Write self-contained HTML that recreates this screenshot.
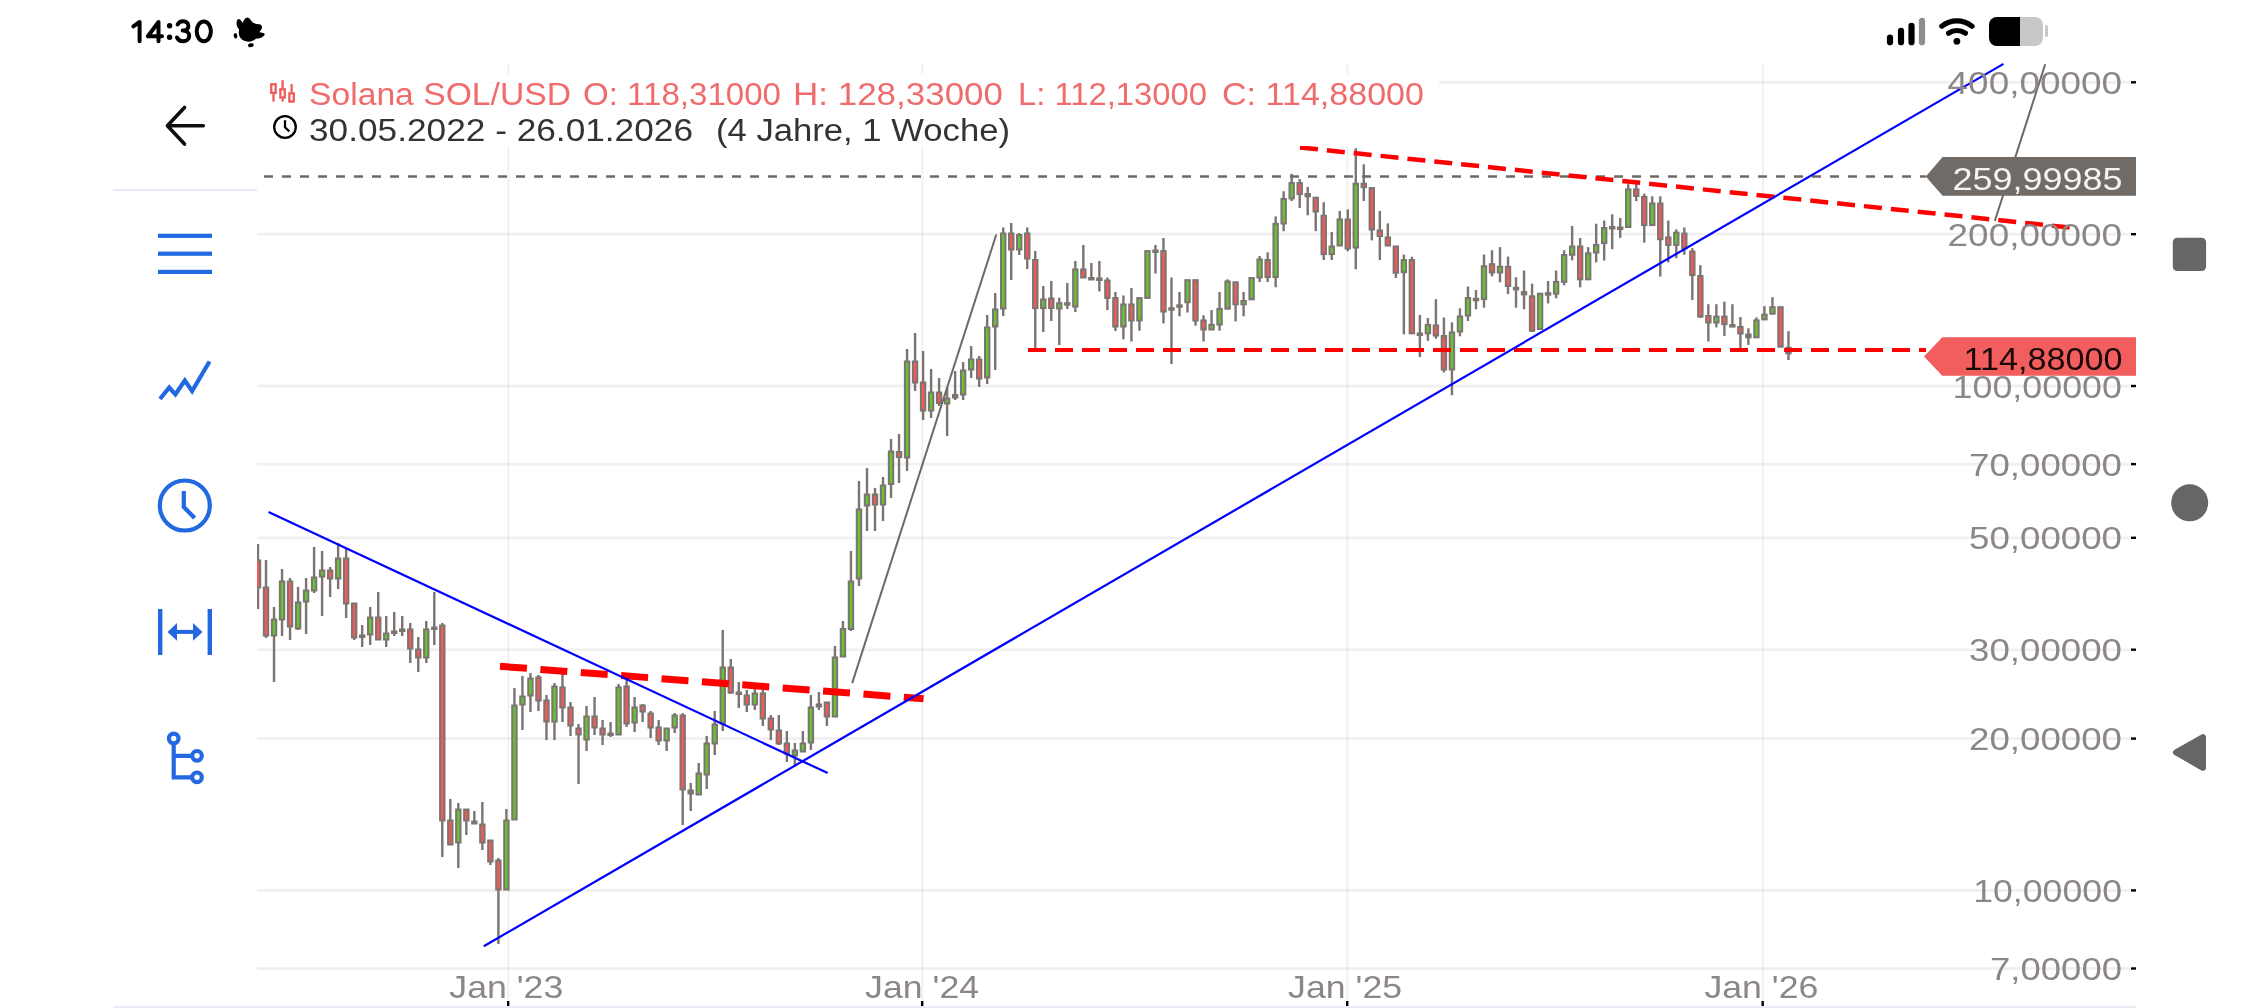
<!DOCTYPE html><html><head><meta charset="utf-8"><style>html,body{margin:0;padding:0;background:#fff;width:2244px;height:1008px;overflow:hidden}svg{display:block;will-change:transform}text{font-family:"Liberation Sans",sans-serif}</style></head><body>
<svg width="2244" height="1008" viewBox="0 0 2244 1008">
<rect width="2244" height="1008" fill="#fff"/>
<rect x="257" y="80.92" width="1873" height="2.8" fill="#000" fill-opacity="0.058"/>
<rect x="2131" y="81.1" width="5" height="2.4" fill="#000"/>
<rect x="257" y="232.76" width="1873" height="2.8" fill="#000" fill-opacity="0.058"/>
<rect x="2131" y="233.0" width="5" height="2.4" fill="#000"/>
<rect x="257" y="384.60" width="1873" height="2.8" fill="#000" fill-opacity="0.058"/>
<rect x="2131" y="384.8" width="5" height="2.4" fill="#000"/>
<rect x="257" y="462.73" width="1873" height="2.8" fill="#000" fill-opacity="0.058"/>
<rect x="2131" y="462.9" width="5" height="2.4" fill="#000"/>
<rect x="257" y="536.44" width="1873" height="2.8" fill="#000" fill-opacity="0.058"/>
<rect x="2131" y="536.6" width="5" height="2.4" fill="#000"/>
<rect x="257" y="648.34" width="1873" height="2.8" fill="#000" fill-opacity="0.058"/>
<rect x="2131" y="648.5" width="5" height="2.4" fill="#000"/>
<rect x="257" y="737.16" width="1873" height="2.8" fill="#000" fill-opacity="0.058"/>
<rect x="2131" y="737.4" width="5" height="2.4" fill="#000"/>
<rect x="257" y="889.00" width="1873" height="2.8" fill="#000" fill-opacity="0.058"/>
<rect x="2131" y="889.2" width="5" height="2.4" fill="#000"/>
<rect x="257" y="967.13" width="1873" height="2.8" fill="#000" fill-opacity="0.058"/>
<rect x="2131" y="967.3" width="5" height="2.4" fill="#000"/>
<rect x="507.5" y="63" width="1.8" height="942" fill="#000" fill-opacity="0.06"/>
<rect x="507.0" y="1001" width="2.4" height="5" fill="#000"/>
<rect x="921.5" y="63" width="1.8" height="942" fill="#000" fill-opacity="0.06"/>
<rect x="921.0" y="1001" width="2.4" height="5" fill="#000"/>
<rect x="1346.5" y="63" width="1.8" height="942" fill="#000" fill-opacity="0.06"/>
<rect x="1346.0" y="1001" width="2.4" height="5" fill="#000"/>
<rect x="1762.0" y="63" width="1.8" height="942" fill="#000" fill-opacity="0.06"/>
<rect x="1761.5" y="1001" width="2.4" height="5" fill="#000"/>
<rect x="113" y="1006" width="2023" height="2" fill="#e8ebf5"/>
<rect x="113" y="189" width="144" height="2" fill="#e8ebf5"/>
<g>
<rect x="256.80" y="544.0" width="2.4" height="65.0" fill="#7b7471"/>
<rect x="254.80" y="559.5" width="6.4" height="29.0" fill="#7b7471"/>
<rect x="256.80" y="561.5" width="2.4" height="25.0" fill="#f25a5a"/>
<rect x="264.81" y="560.0" width="2.4" height="78.0" fill="#7b7471"/>
<rect x="262.81" y="586.5" width="6.4" height="50.0" fill="#7b7471"/>
<rect x="264.81" y="588.5" width="2.4" height="46.0" fill="#f25a5a"/>
<rect x="272.83" y="607.0" width="2.4" height="75.0" fill="#7b7471"/>
<rect x="270.83" y="618.5" width="6.4" height="18.0" fill="#7b7471"/>
<rect x="272.83" y="620.5" width="2.4" height="14.0" fill="#66c430"/>
<rect x="280.84" y="569.0" width="2.4" height="67.0" fill="#7b7471"/>
<rect x="278.84" y="580.5" width="6.4" height="40.0" fill="#7b7471"/>
<rect x="280.84" y="582.5" width="2.4" height="36.0" fill="#66c430"/>
<rect x="288.85" y="578.0" width="2.4" height="62.0" fill="#7b7471"/>
<rect x="286.85" y="580.5" width="6.4" height="47.0" fill="#7b7471"/>
<rect x="288.85" y="582.5" width="2.4" height="43.0" fill="#f25a5a"/>
<rect x="296.87" y="587.0" width="2.4" height="43.0" fill="#7b7471"/>
<rect x="294.87" y="601.5" width="6.4" height="28.0" fill="#7b7471"/>
<rect x="296.87" y="603.5" width="2.4" height="24.0" fill="#66c430"/>
<rect x="304.88" y="578.0" width="2.4" height="56.0" fill="#7b7471"/>
<rect x="302.88" y="589.5" width="6.4" height="13.0" fill="#7b7471"/>
<rect x="304.88" y="591.5" width="2.4" height="9.0" fill="#66c430"/>
<rect x="312.89" y="547.0" width="2.4" height="46.0" fill="#7b7471"/>
<rect x="310.89" y="576.5" width="6.4" height="15.0" fill="#7b7471"/>
<rect x="312.89" y="578.5" width="2.4" height="11.0" fill="#66c430"/>
<rect x="320.90" y="551.0" width="2.4" height="65.0" fill="#7b7471"/>
<rect x="318.90" y="569.5" width="6.4" height="8.0" fill="#7b7471"/>
<rect x="320.90" y="571.5" width="2.4" height="4.0" fill="#66c430"/>
<rect x="328.92" y="567.0" width="2.4" height="30.0" fill="#7b7471"/>
<rect x="326.92" y="569.5" width="6.4" height="10.0" fill="#7b7471"/>
<rect x="328.92" y="571.5" width="2.4" height="6.0" fill="#f25a5a"/>
<rect x="336.93" y="543.0" width="2.4" height="46.0" fill="#7b7471"/>
<rect x="334.93" y="557.5" width="6.4" height="22.0" fill="#7b7471"/>
<rect x="336.93" y="559.5" width="2.4" height="18.0" fill="#66c430"/>
<rect x="344.94" y="548.0" width="2.4" height="70.0" fill="#7b7471"/>
<rect x="342.94" y="557.5" width="6.4" height="47.0" fill="#7b7471"/>
<rect x="344.94" y="559.5" width="2.4" height="43.0" fill="#f25a5a"/>
<rect x="352.96" y="603.0" width="2.4" height="37.0" fill="#7b7471"/>
<rect x="350.96" y="602.5" width="6.4" height="36.0" fill="#7b7471"/>
<rect x="352.96" y="604.5" width="2.4" height="32.0" fill="#f25a5a"/>
<rect x="360.97" y="625.0" width="2.4" height="22.0" fill="#7b7471"/>
<rect x="358.97" y="634.5" width="6.4" height="3.5" fill="#7b7471"/>
<rect x="368.98" y="607.0" width="2.4" height="38.0" fill="#7b7471"/>
<rect x="366.98" y="616.5" width="6.4" height="19.0" fill="#7b7471"/>
<rect x="368.98" y="618.5" width="2.4" height="15.0" fill="#66c430"/>
<rect x="377.00" y="592.0" width="2.4" height="48.0" fill="#7b7471"/>
<rect x="375.00" y="616.5" width="6.4" height="24.0" fill="#7b7471"/>
<rect x="377.00" y="618.5" width="2.4" height="20.0" fill="#f25a5a"/>
<rect x="385.01" y="616.0" width="2.4" height="31.0" fill="#7b7471"/>
<rect x="383.01" y="632.5" width="6.4" height="8.0" fill="#7b7471"/>
<rect x="385.01" y="634.5" width="2.4" height="4.0" fill="#66c430"/>
<rect x="393.02" y="612.0" width="2.4" height="24.0" fill="#7b7471"/>
<rect x="391.02" y="630.5" width="6.4" height="3.5" fill="#7b7471"/>
<rect x="401.03" y="616.0" width="2.4" height="20.0" fill="#7b7471"/>
<rect x="399.03" y="628.5" width="6.4" height="3.5" fill="#7b7471"/>
<rect x="409.05" y="623.0" width="2.4" height="40.0" fill="#7b7471"/>
<rect x="407.05" y="628.5" width="6.4" height="21.0" fill="#7b7471"/>
<rect x="409.05" y="630.5" width="2.4" height="17.0" fill="#f25a5a"/>
<rect x="417.06" y="637.0" width="2.4" height="35.0" fill="#7b7471"/>
<rect x="415.06" y="648.5" width="6.4" height="10.0" fill="#7b7471"/>
<rect x="417.06" y="650.5" width="2.4" height="6.0" fill="#f25a5a"/>
<rect x="425.07" y="621.0" width="2.4" height="42.0" fill="#7b7471"/>
<rect x="423.07" y="628.5" width="6.4" height="30.0" fill="#7b7471"/>
<rect x="425.07" y="630.5" width="2.4" height="26.0" fill="#66c430"/>
<rect x="433.09" y="592.0" width="2.4" height="53.0" fill="#7b7471"/>
<rect x="431.09" y="626.5" width="6.4" height="3.5" fill="#7b7471"/>
<rect x="441.10" y="623.0" width="2.4" height="234.0" fill="#7b7471"/>
<rect x="439.10" y="624.5" width="6.4" height="197.0" fill="#7b7471"/>
<rect x="441.10" y="626.5" width="2.4" height="193.0" fill="#f25a5a"/>
<rect x="449.11" y="799.0" width="2.4" height="46.0" fill="#7b7471"/>
<rect x="447.11" y="819.5" width="6.4" height="26.0" fill="#7b7471"/>
<rect x="449.11" y="821.5" width="2.4" height="22.0" fill="#f25a5a"/>
<rect x="457.12" y="803.0" width="2.4" height="65.0" fill="#7b7471"/>
<rect x="455.12" y="808.5" width="6.4" height="35.0" fill="#7b7471"/>
<rect x="457.12" y="810.5" width="2.4" height="31.0" fill="#66c430"/>
<rect x="465.14" y="809.0" width="2.4" height="26.0" fill="#7b7471"/>
<rect x="463.14" y="808.5" width="6.4" height="13.0" fill="#7b7471"/>
<rect x="465.14" y="810.5" width="2.4" height="9.0" fill="#f25a5a"/>
<rect x="473.15" y="811.0" width="2.4" height="13.0" fill="#7b7471"/>
<rect x="471.15" y="820.5" width="6.4" height="4.0" fill="#7b7471"/>
<rect x="481.16" y="802.0" width="2.4" height="48.0" fill="#7b7471"/>
<rect x="479.16" y="823.5" width="6.4" height="20.0" fill="#7b7471"/>
<rect x="481.16" y="825.5" width="2.4" height="16.0" fill="#f25a5a"/>
<rect x="489.18" y="840.0" width="2.4" height="25.0" fill="#7b7471"/>
<rect x="487.18" y="839.5" width="6.4" height="23.0" fill="#7b7471"/>
<rect x="489.18" y="841.5" width="2.4" height="19.0" fill="#f25a5a"/>
<rect x="497.19" y="858.0" width="2.4" height="86.0" fill="#7b7471"/>
<rect x="495.19" y="859.5" width="6.4" height="31.0" fill="#7b7471"/>
<rect x="497.19" y="861.5" width="2.4" height="27.0" fill="#f25a5a"/>
<rect x="505.20" y="809.0" width="2.4" height="81.0" fill="#7b7471"/>
<rect x="503.20" y="819.5" width="6.4" height="71.0" fill="#7b7471"/>
<rect x="505.20" y="821.5" width="2.4" height="67.0" fill="#66c430"/>
<rect x="513.22" y="688.0" width="2.4" height="132.0" fill="#7b7471"/>
<rect x="511.22" y="704.5" width="6.4" height="116.0" fill="#7b7471"/>
<rect x="513.22" y="706.5" width="2.4" height="112.0" fill="#66c430"/>
<rect x="521.23" y="676.0" width="2.4" height="54.0" fill="#7b7471"/>
<rect x="519.23" y="695.5" width="6.4" height="10.0" fill="#7b7471"/>
<rect x="521.23" y="697.5" width="2.4" height="6.0" fill="#66c430"/>
<rect x="529.24" y="673.0" width="2.4" height="39.0" fill="#7b7471"/>
<rect x="527.24" y="677.5" width="6.4" height="19.0" fill="#7b7471"/>
<rect x="529.24" y="679.5" width="2.4" height="15.0" fill="#66c430"/>
<rect x="537.25" y="675.0" width="2.4" height="36.0" fill="#7b7471"/>
<rect x="535.25" y="676.5" width="6.4" height="25.0" fill="#7b7471"/>
<rect x="537.25" y="678.5" width="2.4" height="21.0" fill="#f25a5a"/>
<rect x="545.27" y="695.0" width="2.4" height="45.0" fill="#7b7471"/>
<rect x="543.27" y="699.5" width="6.4" height="23.0" fill="#7b7471"/>
<rect x="545.27" y="701.5" width="2.4" height="19.0" fill="#f25a5a"/>
<rect x="553.28" y="683.0" width="2.4" height="57.0" fill="#7b7471"/>
<rect x="551.28" y="685.5" width="6.4" height="37.0" fill="#7b7471"/>
<rect x="553.28" y="687.5" width="2.4" height="33.0" fill="#66c430"/>
<rect x="561.29" y="674.0" width="2.4" height="48.0" fill="#7b7471"/>
<rect x="559.29" y="686.5" width="6.4" height="22.0" fill="#7b7471"/>
<rect x="561.29" y="688.5" width="2.4" height="18.0" fill="#f25a5a"/>
<rect x="569.31" y="702.0" width="2.4" height="34.0" fill="#7b7471"/>
<rect x="567.31" y="706.5" width="6.4" height="20.0" fill="#7b7471"/>
<rect x="569.31" y="708.5" width="2.4" height="16.0" fill="#f25a5a"/>
<rect x="577.32" y="724.0" width="2.4" height="60.0" fill="#7b7471"/>
<rect x="575.32" y="727.5" width="6.4" height="8.0" fill="#7b7471"/>
<rect x="577.32" y="729.5" width="2.4" height="4.0" fill="#f25a5a"/>
<rect x="585.33" y="706.0" width="2.4" height="45.0" fill="#7b7471"/>
<rect x="583.33" y="715.5" width="6.4" height="25.0" fill="#7b7471"/>
<rect x="585.33" y="717.5" width="2.4" height="21.0" fill="#66c430"/>
<rect x="593.35" y="697.0" width="2.4" height="38.0" fill="#7b7471"/>
<rect x="591.35" y="715.5" width="6.4" height="13.0" fill="#7b7471"/>
<rect x="593.35" y="717.5" width="2.4" height="9.0" fill="#f25a5a"/>
<rect x="601.36" y="720.0" width="2.4" height="25.0" fill="#7b7471"/>
<rect x="599.36" y="727.5" width="6.4" height="8.0" fill="#7b7471"/>
<rect x="601.36" y="729.5" width="2.4" height="4.0" fill="#f25a5a"/>
<rect x="609.37" y="722.0" width="2.4" height="15.0" fill="#7b7471"/>
<rect x="607.37" y="732.5" width="6.4" height="3.5" fill="#7b7471"/>
<rect x="617.38" y="684.0" width="2.4" height="51.0" fill="#7b7471"/>
<rect x="615.38" y="686.5" width="6.4" height="49.0" fill="#7b7471"/>
<rect x="617.38" y="688.5" width="2.4" height="45.0" fill="#66c430"/>
<rect x="625.40" y="680.0" width="2.4" height="47.0" fill="#7b7471"/>
<rect x="623.40" y="685.5" width="6.4" height="39.0" fill="#7b7471"/>
<rect x="625.40" y="687.5" width="2.4" height="35.0" fill="#f25a5a"/>
<rect x="633.41" y="697.0" width="2.4" height="35.0" fill="#7b7471"/>
<rect x="631.41" y="706.5" width="6.4" height="17.0" fill="#7b7471"/>
<rect x="633.41" y="708.5" width="2.4" height="13.0" fill="#66c430"/>
<rect x="641.42" y="704.0" width="2.4" height="18.0" fill="#7b7471"/>
<rect x="639.42" y="704.5" width="6.4" height="8.0" fill="#7b7471"/>
<rect x="641.42" y="706.5" width="2.4" height="4.0" fill="#f25a5a"/>
<rect x="649.44" y="711.0" width="2.4" height="27.0" fill="#7b7471"/>
<rect x="647.44" y="712.5" width="6.4" height="16.0" fill="#7b7471"/>
<rect x="649.44" y="714.5" width="2.4" height="12.0" fill="#f25a5a"/>
<rect x="657.45" y="720.0" width="2.4" height="25.0" fill="#7b7471"/>
<rect x="655.45" y="726.5" width="6.4" height="15.0" fill="#7b7471"/>
<rect x="657.45" y="728.5" width="2.4" height="11.0" fill="#f25a5a"/>
<rect x="665.46" y="728.0" width="2.4" height="23.0" fill="#7b7471"/>
<rect x="663.46" y="727.5" width="6.4" height="14.0" fill="#7b7471"/>
<rect x="665.46" y="729.5" width="2.4" height="10.0" fill="#66c430"/>
<rect x="673.48" y="713.0" width="2.4" height="20.0" fill="#7b7471"/>
<rect x="671.48" y="714.5" width="6.4" height="14.0" fill="#7b7471"/>
<rect x="673.48" y="716.5" width="2.4" height="10.0" fill="#66c430"/>
<rect x="681.49" y="713.0" width="2.4" height="112.0" fill="#7b7471"/>
<rect x="679.49" y="714.5" width="6.4" height="76.0" fill="#7b7471"/>
<rect x="681.49" y="716.5" width="2.4" height="72.0" fill="#f25a5a"/>
<rect x="689.50" y="783.0" width="2.4" height="28.0" fill="#7b7471"/>
<rect x="687.50" y="789.5" width="6.4" height="5.0" fill="#7b7471"/>
<rect x="697.51" y="763.0" width="2.4" height="32.0" fill="#7b7471"/>
<rect x="695.51" y="772.5" width="6.4" height="23.0" fill="#7b7471"/>
<rect x="697.51" y="774.5" width="2.4" height="19.0" fill="#66c430"/>
<rect x="705.53" y="736.0" width="2.4" height="53.0" fill="#7b7471"/>
<rect x="703.53" y="742.5" width="6.4" height="33.0" fill="#7b7471"/>
<rect x="705.53" y="744.5" width="2.4" height="29.0" fill="#66c430"/>
<rect x="713.54" y="711.0" width="2.4" height="44.0" fill="#7b7471"/>
<rect x="711.54" y="723.5" width="6.4" height="21.0" fill="#7b7471"/>
<rect x="713.54" y="725.5" width="2.4" height="17.0" fill="#66c430"/>
<rect x="721.55" y="630.0" width="2.4" height="101.0" fill="#7b7471"/>
<rect x="719.55" y="666.5" width="6.4" height="58.0" fill="#7b7471"/>
<rect x="721.55" y="668.5" width="2.4" height="54.0" fill="#66c430"/>
<rect x="729.57" y="659.0" width="2.4" height="35.0" fill="#7b7471"/>
<rect x="727.57" y="666.5" width="6.4" height="27.0" fill="#7b7471"/>
<rect x="729.57" y="668.5" width="2.4" height="23.0" fill="#f25a5a"/>
<rect x="737.58" y="682.0" width="2.4" height="26.0" fill="#7b7471"/>
<rect x="735.58" y="691.5" width="6.4" height="3.5" fill="#7b7471"/>
<rect x="745.59" y="690.0" width="2.4" height="22.0" fill="#7b7471"/>
<rect x="743.59" y="694.5" width="6.4" height="11.0" fill="#7b7471"/>
<rect x="745.59" y="696.5" width="2.4" height="7.0" fill="#f25a5a"/>
<rect x="753.61" y="689.0" width="2.4" height="21.0" fill="#7b7471"/>
<rect x="751.61" y="692.5" width="6.4" height="13.0" fill="#7b7471"/>
<rect x="753.61" y="694.5" width="2.4" height="9.0" fill="#66c430"/>
<rect x="761.62" y="690.0" width="2.4" height="36.0" fill="#7b7471"/>
<rect x="759.62" y="692.5" width="6.4" height="27.0" fill="#7b7471"/>
<rect x="761.62" y="694.5" width="2.4" height="23.0" fill="#f25a5a"/>
<rect x="769.63" y="715.0" width="2.4" height="25.0" fill="#7b7471"/>
<rect x="767.63" y="717.5" width="6.4" height="13.0" fill="#7b7471"/>
<rect x="769.63" y="719.5" width="2.4" height="9.0" fill="#f25a5a"/>
<rect x="777.64" y="715.0" width="2.4" height="30.0" fill="#7b7471"/>
<rect x="775.64" y="729.5" width="6.4" height="15.0" fill="#7b7471"/>
<rect x="777.64" y="731.5" width="2.4" height="11.0" fill="#f25a5a"/>
<rect x="785.66" y="731.0" width="2.4" height="31.0" fill="#7b7471"/>
<rect x="783.66" y="742.5" width="6.4" height="12.0" fill="#7b7471"/>
<rect x="785.66" y="744.5" width="2.4" height="8.0" fill="#f25a5a"/>
<rect x="793.67" y="743.0" width="2.4" height="22.0" fill="#7b7471"/>
<rect x="791.67" y="749.5" width="6.4" height="7.0" fill="#7b7471"/>
<rect x="793.67" y="751.5" width="2.4" height="3.0" fill="#66c430"/>
<rect x="801.68" y="731.0" width="2.4" height="21.0" fill="#7b7471"/>
<rect x="799.68" y="742.5" width="6.4" height="10.0" fill="#7b7471"/>
<rect x="801.68" y="744.5" width="2.4" height="6.0" fill="#66c430"/>
<rect x="809.70" y="695.0" width="2.4" height="55.0" fill="#7b7471"/>
<rect x="807.70" y="706.5" width="6.4" height="37.0" fill="#7b7471"/>
<rect x="809.70" y="708.5" width="2.4" height="33.0" fill="#66c430"/>
<rect x="817.71" y="692.0" width="2.4" height="18.0" fill="#7b7471"/>
<rect x="815.71" y="703.5" width="6.4" height="4.0" fill="#7b7471"/>
<rect x="825.72" y="702.0" width="2.4" height="24.0" fill="#7b7471"/>
<rect x="823.72" y="701.5" width="6.4" height="16.0" fill="#7b7471"/>
<rect x="825.72" y="703.5" width="2.4" height="12.0" fill="#f25a5a"/>
<rect x="833.74" y="646.0" width="2.4" height="71.0" fill="#7b7471"/>
<rect x="831.74" y="656.5" width="6.4" height="61.0" fill="#7b7471"/>
<rect x="833.74" y="658.5" width="2.4" height="57.0" fill="#66c430"/>
<rect x="841.75" y="621.0" width="2.4" height="36.0" fill="#7b7471"/>
<rect x="839.75" y="628.0" width="6.4" height="29.5" fill="#7b7471"/>
<rect x="841.75" y="630.0" width="2.4" height="25.5" fill="#66c430"/>
<rect x="849.76" y="551.0" width="2.4" height="80.0" fill="#7b7471"/>
<rect x="847.76" y="580.5" width="6.4" height="49.5" fill="#7b7471"/>
<rect x="849.76" y="582.5" width="2.4" height="45.5" fill="#66c430"/>
<rect x="857.77" y="481.0" width="2.4" height="105.0" fill="#7b7471"/>
<rect x="855.77" y="508.5" width="6.4" height="71.0" fill="#7b7471"/>
<rect x="857.77" y="510.5" width="2.4" height="67.0" fill="#66c430"/>
<rect x="865.79" y="468.0" width="2.4" height="63.0" fill="#7b7471"/>
<rect x="863.79" y="493.5" width="6.4" height="13.0" fill="#7b7471"/>
<rect x="865.79" y="495.5" width="2.4" height="9.0" fill="#66c430"/>
<rect x="873.80" y="488.0" width="2.4" height="43.0" fill="#7b7471"/>
<rect x="871.80" y="493.5" width="6.4" height="12.0" fill="#7b7471"/>
<rect x="873.80" y="495.5" width="2.4" height="8.0" fill="#f25a5a"/>
<rect x="881.81" y="477.0" width="2.4" height="44.0" fill="#7b7471"/>
<rect x="879.81" y="484.5" width="6.4" height="21.0" fill="#7b7471"/>
<rect x="881.81" y="486.5" width="2.4" height="17.0" fill="#66c430"/>
<rect x="889.83" y="439.0" width="2.4" height="59.0" fill="#7b7471"/>
<rect x="887.83" y="450.5" width="6.4" height="34.5" fill="#7b7471"/>
<rect x="889.83" y="452.5" width="2.4" height="30.5" fill="#66c430"/>
<rect x="897.84" y="434.0" width="2.4" height="49.0" fill="#7b7471"/>
<rect x="895.84" y="451.0" width="6.4" height="7.0" fill="#7b7471"/>
<rect x="897.84" y="453.0" width="2.4" height="3.0" fill="#f25a5a"/>
<rect x="905.85" y="349.0" width="2.4" height="122.0" fill="#7b7471"/>
<rect x="903.85" y="360.5" width="6.4" height="98.0" fill="#7b7471"/>
<rect x="905.85" y="362.5" width="2.4" height="94.0" fill="#66c430"/>
<rect x="913.87" y="333.0" width="2.4" height="58.0" fill="#7b7471"/>
<rect x="911.87" y="360.5" width="6.4" height="23.0" fill="#7b7471"/>
<rect x="913.87" y="362.5" width="2.4" height="19.0" fill="#f25a5a"/>
<rect x="921.88" y="351.0" width="2.4" height="69.0" fill="#7b7471"/>
<rect x="919.88" y="381.5" width="6.4" height="30.0" fill="#7b7471"/>
<rect x="921.88" y="383.5" width="2.4" height="26.0" fill="#f25a5a"/>
<rect x="929.89" y="369.0" width="2.4" height="49.0" fill="#7b7471"/>
<rect x="927.89" y="391.5" width="6.4" height="20.0" fill="#7b7471"/>
<rect x="929.89" y="393.5" width="2.4" height="16.0" fill="#66c430"/>
<rect x="937.90" y="378.0" width="2.4" height="28.0" fill="#7b7471"/>
<rect x="935.90" y="391.5" width="6.4" height="12.5" fill="#7b7471"/>
<rect x="937.90" y="393.5" width="2.4" height="8.5" fill="#f25a5a"/>
<rect x="945.92" y="387.0" width="2.4" height="49.0" fill="#7b7471"/>
<rect x="943.92" y="397.5" width="6.4" height="7.0" fill="#7b7471"/>
<rect x="945.92" y="399.5" width="2.4" height="3.0" fill="#66c430"/>
<rect x="953.93" y="371.0" width="2.4" height="29.0" fill="#7b7471"/>
<rect x="951.93" y="394.0" width="6.4" height="4.5" fill="#7b7471"/>
<rect x="961.94" y="362.0" width="2.4" height="38.0" fill="#7b7471"/>
<rect x="959.94" y="369.5" width="6.4" height="26.0" fill="#7b7471"/>
<rect x="961.94" y="371.5" width="2.4" height="22.0" fill="#66c430"/>
<rect x="969.96" y="346.0" width="2.4" height="32.0" fill="#7b7471"/>
<rect x="967.96" y="358.5" width="6.4" height="12.0" fill="#7b7471"/>
<rect x="969.96" y="360.5" width="2.4" height="8.0" fill="#66c430"/>
<rect x="977.97" y="356.0" width="2.4" height="31.0" fill="#7b7471"/>
<rect x="975.97" y="358.5" width="6.4" height="21.0" fill="#7b7471"/>
<rect x="977.97" y="360.5" width="2.4" height="17.0" fill="#f25a5a"/>
<rect x="985.98" y="315.0" width="2.4" height="69.0" fill="#7b7471"/>
<rect x="983.98" y="326.5" width="6.4" height="52.0" fill="#7b7471"/>
<rect x="985.98" y="328.5" width="2.4" height="48.0" fill="#66c430"/>
<rect x="994.00" y="293.0" width="2.4" height="77.0" fill="#7b7471"/>
<rect x="992.00" y="308.5" width="6.4" height="19.0" fill="#7b7471"/>
<rect x="994.00" y="310.5" width="2.4" height="15.0" fill="#66c430"/>
<rect x="1002.01" y="227.5" width="2.4" height="88.5" fill="#7b7471"/>
<rect x="1000.01" y="232.5" width="6.4" height="77.0" fill="#7b7471"/>
<rect x="1002.01" y="234.5" width="2.4" height="73.0" fill="#66c430"/>
<rect x="1010.02" y="223.0" width="2.4" height="57.0" fill="#7b7471"/>
<rect x="1008.02" y="232.5" width="6.4" height="18.0" fill="#7b7471"/>
<rect x="1010.02" y="234.5" width="2.4" height="14.0" fill="#f25a5a"/>
<rect x="1018.03" y="233.0" width="2.4" height="22.0" fill="#7b7471"/>
<rect x="1016.03" y="234.0" width="6.4" height="16.5" fill="#7b7471"/>
<rect x="1018.03" y="236.0" width="2.4" height="12.5" fill="#66c430"/>
<rect x="1026.05" y="227.5" width="2.4" height="41.5" fill="#7b7471"/>
<rect x="1024.05" y="232.5" width="6.4" height="27.0" fill="#7b7471"/>
<rect x="1026.05" y="234.5" width="2.4" height="23.0" fill="#f25a5a"/>
<rect x="1034.06" y="251.0" width="2.4" height="100.0" fill="#7b7471"/>
<rect x="1032.06" y="259.0" width="6.4" height="50.1" fill="#7b7471"/>
<rect x="1034.06" y="261.0" width="2.4" height="46.1" fill="#f25a5a"/>
<rect x="1042.07" y="286.0" width="2.4" height="46.0" fill="#7b7471"/>
<rect x="1040.07" y="298.5" width="6.4" height="10.6" fill="#7b7471"/>
<rect x="1042.07" y="300.5" width="2.4" height="6.6" fill="#66c430"/>
<rect x="1050.09" y="281.0" width="2.4" height="40.0" fill="#7b7471"/>
<rect x="1048.09" y="297.5" width="6.4" height="11.5" fill="#7b7471"/>
<rect x="1050.09" y="299.5" width="2.4" height="7.5" fill="#f25a5a"/>
<rect x="1058.10" y="297.6" width="2.4" height="47.4" fill="#7b7471"/>
<rect x="1056.10" y="302.2" width="6.4" height="7.3" fill="#7b7471"/>
<rect x="1058.10" y="304.2" width="2.4" height="3.3" fill="#66c430"/>
<rect x="1066.11" y="283.0" width="2.4" height="26.0" fill="#7b7471"/>
<rect x="1064.11" y="302.2" width="6.4" height="3.5" fill="#7b7471"/>
<rect x="1074.13" y="261.0" width="2.4" height="51.0" fill="#7b7471"/>
<rect x="1072.13" y="268.5" width="6.4" height="39.0" fill="#7b7471"/>
<rect x="1074.13" y="270.5" width="2.4" height="35.0" fill="#66c430"/>
<rect x="1082.14" y="245.0" width="2.4" height="33.0" fill="#7b7471"/>
<rect x="1080.14" y="268.5" width="6.4" height="10.0" fill="#7b7471"/>
<rect x="1082.14" y="270.5" width="2.4" height="6.0" fill="#f25a5a"/>
<rect x="1090.15" y="263.0" width="2.4" height="17.0" fill="#7b7471"/>
<rect x="1088.15" y="277.0" width="6.4" height="3.5" fill="#7b7471"/>
<rect x="1098.16" y="261.0" width="2.4" height="30.5" fill="#7b7471"/>
<rect x="1096.16" y="277.5" width="6.4" height="3.5" fill="#7b7471"/>
<rect x="1106.18" y="277.5" width="2.4" height="32.5" fill="#7b7471"/>
<rect x="1104.18" y="279.5" width="6.4" height="19.4" fill="#7b7471"/>
<rect x="1106.18" y="281.5" width="2.4" height="15.4" fill="#f25a5a"/>
<rect x="1114.19" y="292.0" width="2.4" height="39.0" fill="#7b7471"/>
<rect x="1112.19" y="297.1" width="6.4" height="30.4" fill="#7b7471"/>
<rect x="1114.19" y="299.1" width="2.4" height="26.4" fill="#f25a5a"/>
<rect x="1122.20" y="295.5" width="2.4" height="43.9" fill="#7b7471"/>
<rect x="1120.20" y="303.5" width="6.4" height="24.0" fill="#7b7471"/>
<rect x="1122.20" y="305.5" width="2.4" height="20.0" fill="#66c430"/>
<rect x="1130.22" y="288.0" width="2.4" height="53.5" fill="#7b7471"/>
<rect x="1128.22" y="303.5" width="6.4" height="18.0" fill="#7b7471"/>
<rect x="1130.22" y="305.5" width="2.4" height="14.0" fill="#f25a5a"/>
<rect x="1138.23" y="297.6" width="2.4" height="33.1" fill="#7b7471"/>
<rect x="1136.23" y="297.1" width="6.4" height="24.4" fill="#7b7471"/>
<rect x="1138.23" y="299.1" width="2.4" height="20.4" fill="#66c430"/>
<rect x="1146.24" y="250.6" width="2.4" height="47.8" fill="#7b7471"/>
<rect x="1144.24" y="250.1" width="6.4" height="48.8" fill="#7b7471"/>
<rect x="1146.24" y="252.1" width="2.4" height="44.8" fill="#66c430"/>
<rect x="1154.26" y="245.0" width="2.4" height="28.6" fill="#7b7471"/>
<rect x="1152.26" y="249.5" width="6.4" height="3.5" fill="#7b7471"/>
<rect x="1162.27" y="238.0" width="2.4" height="85.5" fill="#7b7471"/>
<rect x="1160.27" y="250.1" width="6.4" height="62.4" fill="#7b7471"/>
<rect x="1162.27" y="252.1" width="2.4" height="58.4" fill="#f25a5a"/>
<rect x="1170.28" y="277.5" width="2.4" height="86.5" fill="#7b7471"/>
<rect x="1168.28" y="307.2" width="6.4" height="3.5" fill="#7b7471"/>
<rect x="1178.29" y="292.0" width="2.4" height="24.3" fill="#7b7471"/>
<rect x="1176.29" y="304.3" width="6.4" height="3.5" fill="#7b7471"/>
<rect x="1186.31" y="279.7" width="2.4" height="32.8" fill="#7b7471"/>
<rect x="1184.31" y="279.2" width="6.4" height="24.0" fill="#7b7471"/>
<rect x="1186.31" y="281.2" width="2.4" height="20.0" fill="#66c430"/>
<rect x="1194.32" y="279.7" width="2.4" height="46.0" fill="#7b7471"/>
<rect x="1192.32" y="279.2" width="6.4" height="42.3" fill="#7b7471"/>
<rect x="1194.32" y="281.2" width="2.4" height="38.3" fill="#f25a5a"/>
<rect x="1202.33" y="315.3" width="2.4" height="26.2" fill="#7b7471"/>
<rect x="1200.33" y="319.5" width="6.4" height="11.0" fill="#7b7471"/>
<rect x="1202.33" y="321.5" width="2.4" height="7.0" fill="#f25a5a"/>
<rect x="1210.35" y="310.0" width="2.4" height="20.0" fill="#7b7471"/>
<rect x="1208.35" y="323.8" width="6.4" height="6.7" fill="#7b7471"/>
<rect x="1210.35" y="325.8" width="2.4" height="2.7" fill="#66c430"/>
<rect x="1218.36" y="292.0" width="2.4" height="38.7" fill="#7b7471"/>
<rect x="1216.36" y="307.9" width="6.4" height="17.6" fill="#7b7471"/>
<rect x="1218.36" y="309.9" width="2.4" height="13.6" fill="#66c430"/>
<rect x="1226.37" y="279.4" width="2.4" height="29.8" fill="#7b7471"/>
<rect x="1224.37" y="280.5" width="6.4" height="29.2" fill="#7b7471"/>
<rect x="1226.37" y="282.5" width="2.4" height="25.2" fill="#66c430"/>
<rect x="1234.39" y="281.8" width="2.4" height="39.6" fill="#7b7471"/>
<rect x="1232.39" y="281.3" width="6.4" height="24.0" fill="#7b7471"/>
<rect x="1234.39" y="283.3" width="2.4" height="20.0" fill="#f25a5a"/>
<rect x="1242.40" y="292.0" width="2.4" height="24.3" fill="#7b7471"/>
<rect x="1240.40" y="300.0" width="6.4" height="5.3" fill="#7b7471"/>
<rect x="1242.40" y="302.0" width="2.4" height="1.3" fill="#66c430"/>
<rect x="1250.41" y="277.5" width="2.4" height="22.3" fill="#7b7471"/>
<rect x="1248.41" y="277.0" width="6.4" height="23.3" fill="#7b7471"/>
<rect x="1250.41" y="279.0" width="2.4" height="19.3" fill="#66c430"/>
<rect x="1258.42" y="256.0" width="2.4" height="26.0" fill="#7b7471"/>
<rect x="1256.42" y="258.5" width="6.4" height="20.0" fill="#7b7471"/>
<rect x="1258.42" y="260.5" width="2.4" height="16.0" fill="#66c430"/>
<rect x="1266.44" y="252.4" width="2.4" height="29.6" fill="#7b7471"/>
<rect x="1264.44" y="259.1" width="6.4" height="18.9" fill="#7b7471"/>
<rect x="1266.44" y="261.1" width="2.4" height="14.9" fill="#f25a5a"/>
<rect x="1274.45" y="216.4" width="2.4" height="70.9" fill="#7b7471"/>
<rect x="1272.45" y="222.9" width="6.4" height="55.1" fill="#7b7471"/>
<rect x="1274.45" y="224.9" width="2.4" height="51.1" fill="#66c430"/>
<rect x="1282.46" y="191.3" width="2.4" height="39.9" fill="#7b7471"/>
<rect x="1280.46" y="198.0" width="6.4" height="26.5" fill="#7b7471"/>
<rect x="1282.46" y="200.0" width="2.4" height="22.5" fill="#66c430"/>
<rect x="1290.48" y="173.8" width="2.4" height="27.2" fill="#7b7471"/>
<rect x="1288.48" y="182.1" width="6.4" height="17.3" fill="#7b7471"/>
<rect x="1290.48" y="184.1" width="2.4" height="13.3" fill="#66c430"/>
<rect x="1298.49" y="179.0" width="2.4" height="29.0" fill="#7b7471"/>
<rect x="1296.49" y="182.1" width="6.4" height="13.0" fill="#7b7471"/>
<rect x="1298.49" y="184.1" width="2.4" height="9.0" fill="#f25a5a"/>
<rect x="1306.50" y="187.0" width="2.4" height="28.3" fill="#7b7471"/>
<rect x="1304.50" y="193.0" width="6.4" height="4.3" fill="#7b7471"/>
<rect x="1314.52" y="197.2" width="2.4" height="34.0" fill="#7b7471"/>
<rect x="1312.52" y="196.7" width="6.4" height="15.8" fill="#7b7471"/>
<rect x="1314.52" y="198.7" width="2.4" height="11.8" fill="#f25a5a"/>
<rect x="1322.53" y="202.2" width="2.4" height="57.8" fill="#7b7471"/>
<rect x="1320.53" y="214.8" width="6.4" height="40.3" fill="#7b7471"/>
<rect x="1322.53" y="216.8" width="2.4" height="36.3" fill="#f25a5a"/>
<rect x="1330.54" y="232.0" width="2.4" height="28.0" fill="#7b7471"/>
<rect x="1328.54" y="245.5" width="6.4" height="9.6" fill="#7b7471"/>
<rect x="1330.54" y="247.5" width="2.4" height="5.6" fill="#66c430"/>
<rect x="1338.55" y="211.0" width="2.4" height="35.0" fill="#7b7471"/>
<rect x="1336.55" y="218.5" width="6.4" height="28.0" fill="#7b7471"/>
<rect x="1338.55" y="220.5" width="2.4" height="24.0" fill="#66c430"/>
<rect x="1346.57" y="209.4" width="2.4" height="41.9" fill="#7b7471"/>
<rect x="1344.57" y="218.5" width="6.4" height="31.0" fill="#7b7471"/>
<rect x="1346.57" y="220.5" width="2.4" height="27.0" fill="#f25a5a"/>
<rect x="1354.58" y="148.3" width="2.4" height="120.9" fill="#7b7471"/>
<rect x="1352.58" y="182.7" width="6.4" height="65.8" fill="#7b7471"/>
<rect x="1354.58" y="184.7" width="2.4" height="61.8" fill="#66c430"/>
<rect x="1362.59" y="164.4" width="2.4" height="36.6" fill="#7b7471"/>
<rect x="1360.59" y="182.7" width="6.4" height="5.4" fill="#7b7471"/>
<rect x="1362.59" y="184.7" width="2.4" height="1.4" fill="#f25a5a"/>
<rect x="1370.61" y="187.6" width="2.4" height="52.8" fill="#7b7471"/>
<rect x="1368.61" y="187.1" width="6.4" height="43.4" fill="#7b7471"/>
<rect x="1370.61" y="189.1" width="2.4" height="39.4" fill="#f25a5a"/>
<rect x="1378.62" y="211.0" width="2.4" height="49.0" fill="#7b7471"/>
<rect x="1376.62" y="229.5" width="6.4" height="7.5" fill="#7b7471"/>
<rect x="1378.62" y="231.5" width="2.4" height="3.5" fill="#f25a5a"/>
<rect x="1386.63" y="223.4" width="2.4" height="22.6" fill="#7b7471"/>
<rect x="1384.63" y="236.5" width="6.4" height="10.0" fill="#7b7471"/>
<rect x="1386.63" y="238.5" width="2.4" height="6.0" fill="#f25a5a"/>
<rect x="1394.65" y="246.0" width="2.4" height="32.0" fill="#7b7471"/>
<rect x="1392.65" y="245.5" width="6.4" height="28.2" fill="#7b7471"/>
<rect x="1394.65" y="247.5" width="2.4" height="24.2" fill="#f25a5a"/>
<rect x="1402.66" y="254.6" width="2.4" height="79.7" fill="#7b7471"/>
<rect x="1400.66" y="259.1" width="6.4" height="14.1" fill="#7b7471"/>
<rect x="1402.66" y="261.1" width="2.4" height="10.1" fill="#66c430"/>
<rect x="1410.67" y="256.8" width="2.4" height="77.0" fill="#7b7471"/>
<rect x="1408.67" y="259.1" width="6.4" height="75.2" fill="#7b7471"/>
<rect x="1410.67" y="261.1" width="2.4" height="71.2" fill="#f25a5a"/>
<rect x="1418.68" y="315.0" width="2.4" height="42.0" fill="#7b7471"/>
<rect x="1416.68" y="332.5" width="6.4" height="3.5" fill="#7b7471"/>
<rect x="1426.70" y="318.0" width="2.4" height="22.8" fill="#7b7471"/>
<rect x="1424.70" y="324.0" width="6.4" height="10.3" fill="#7b7471"/>
<rect x="1426.70" y="326.0" width="2.4" height="6.3" fill="#66c430"/>
<rect x="1434.71" y="299.2" width="2.4" height="39.5" fill="#7b7471"/>
<rect x="1432.71" y="324.5" width="6.4" height="12.0" fill="#7b7471"/>
<rect x="1434.71" y="326.5" width="2.4" height="8.0" fill="#f25a5a"/>
<rect x="1442.72" y="317.5" width="2.4" height="55.0" fill="#7b7471"/>
<rect x="1440.72" y="335.0" width="6.4" height="35.5" fill="#7b7471"/>
<rect x="1442.72" y="337.0" width="2.4" height="31.5" fill="#f25a5a"/>
<rect x="1450.74" y="322.4" width="2.4" height="72.9" fill="#7b7471"/>
<rect x="1448.74" y="331.5" width="6.4" height="39.0" fill="#7b7471"/>
<rect x="1450.74" y="333.5" width="2.4" height="35.0" fill="#66c430"/>
<rect x="1458.75" y="308.4" width="2.4" height="27.9" fill="#7b7471"/>
<rect x="1456.75" y="315.5" width="6.4" height="17.0" fill="#7b7471"/>
<rect x="1458.75" y="317.5" width="2.4" height="13.0" fill="#66c430"/>
<rect x="1466.76" y="286.5" width="2.4" height="34.5" fill="#7b7471"/>
<rect x="1464.76" y="297.0" width="6.4" height="19.5" fill="#7b7471"/>
<rect x="1466.76" y="299.0" width="2.4" height="15.5" fill="#66c430"/>
<rect x="1474.78" y="290.0" width="2.4" height="19.3" fill="#7b7471"/>
<rect x="1472.78" y="297.8" width="6.4" height="3.5" fill="#7b7471"/>
<rect x="1482.79" y="254.5" width="2.4" height="53.1" fill="#7b7471"/>
<rect x="1480.79" y="265.3" width="6.4" height="34.7" fill="#7b7471"/>
<rect x="1482.79" y="267.3" width="2.4" height="30.7" fill="#66c430"/>
<rect x="1490.80" y="250.2" width="2.4" height="26.2" fill="#7b7471"/>
<rect x="1488.80" y="263.2" width="6.4" height="10.3" fill="#7b7471"/>
<rect x="1490.80" y="265.2" width="2.4" height="6.3" fill="#f25a5a"/>
<rect x="1498.81" y="247.2" width="2.4" height="35.1" fill="#7b7471"/>
<rect x="1496.81" y="265.8" width="6.4" height="7.7" fill="#7b7471"/>
<rect x="1498.81" y="267.8" width="2.4" height="3.7" fill="#66c430"/>
<rect x="1506.83" y="256.6" width="2.4" height="37.5" fill="#7b7471"/>
<rect x="1504.83" y="265.8" width="6.4" height="21.2" fill="#7b7471"/>
<rect x="1506.83" y="267.8" width="2.4" height="17.2" fill="#f25a5a"/>
<rect x="1514.84" y="277.2" width="2.4" height="30.4" fill="#7b7471"/>
<rect x="1512.84" y="286.8" width="6.4" height="3.6" fill="#7b7471"/>
<rect x="1522.85" y="270.5" width="2.4" height="38.8" fill="#7b7471"/>
<rect x="1520.85" y="291.1" width="6.4" height="4.3" fill="#7b7471"/>
<rect x="1530.87" y="283.6" width="2.4" height="48.4" fill="#7b7471"/>
<rect x="1528.87" y="295.3" width="6.4" height="36.4" fill="#7b7471"/>
<rect x="1530.87" y="297.3" width="2.4" height="32.4" fill="#f25a5a"/>
<rect x="1538.88" y="293.2" width="2.4" height="36.3" fill="#7b7471"/>
<rect x="1536.88" y="292.7" width="6.4" height="37.3" fill="#7b7471"/>
<rect x="1538.88" y="294.7" width="2.4" height="33.3" fill="#66c430"/>
<rect x="1546.89" y="281.0" width="2.4" height="22.4" fill="#7b7471"/>
<rect x="1544.89" y="292.2" width="6.4" height="3.5" fill="#7b7471"/>
<rect x="1554.91" y="270.5" width="2.4" height="27.8" fill="#7b7471"/>
<rect x="1552.91" y="280.9" width="6.4" height="13.7" fill="#7b7471"/>
<rect x="1554.91" y="282.9" width="2.4" height="9.7" fill="#66c430"/>
<rect x="1562.92" y="250.2" width="2.4" height="35.1" fill="#7b7471"/>
<rect x="1560.92" y="254.0" width="6.4" height="28.8" fill="#7b7471"/>
<rect x="1562.92" y="256.0" width="2.4" height="24.8" fill="#66c430"/>
<rect x="1570.93" y="226.0" width="2.4" height="34.4" fill="#7b7471"/>
<rect x="1568.93" y="245.5" width="6.4" height="10.3" fill="#7b7471"/>
<rect x="1570.93" y="247.5" width="2.4" height="6.3" fill="#66c430"/>
<rect x="1578.94" y="238.0" width="2.4" height="49.3" fill="#7b7471"/>
<rect x="1576.94" y="245.5" width="6.4" height="34.8" fill="#7b7471"/>
<rect x="1578.94" y="247.5" width="2.4" height="30.8" fill="#f25a5a"/>
<rect x="1586.96" y="247.2" width="2.4" height="32.6" fill="#7b7471"/>
<rect x="1584.96" y="252.3" width="6.4" height="28.0" fill="#7b7471"/>
<rect x="1586.96" y="254.3" width="2.4" height="24.0" fill="#66c430"/>
<rect x="1594.97" y="223.7" width="2.4" height="38.7" fill="#7b7471"/>
<rect x="1592.97" y="244.0" width="6.4" height="9.5" fill="#7b7471"/>
<rect x="1594.97" y="246.0" width="2.4" height="5.5" fill="#66c430"/>
<rect x="1602.98" y="220.5" width="2.4" height="40.0" fill="#7b7471"/>
<rect x="1600.98" y="227.0" width="6.4" height="17.0" fill="#7b7471"/>
<rect x="1602.98" y="229.0" width="2.4" height="13.0" fill="#66c430"/>
<rect x="1611.00" y="214.3" width="2.4" height="34.9" fill="#7b7471"/>
<rect x="1609.00" y="226.0" width="6.4" height="3.5" fill="#7b7471"/>
<rect x="1619.01" y="218.0" width="2.4" height="19.9" fill="#7b7471"/>
<rect x="1617.01" y="226.5" width="6.4" height="3.5" fill="#7b7471"/>
<rect x="1627.02" y="184.1" width="2.4" height="43.4" fill="#7b7471"/>
<rect x="1625.02" y="188.4" width="6.4" height="39.6" fill="#7b7471"/>
<rect x="1627.02" y="190.4" width="2.4" height="35.6" fill="#66c430"/>
<rect x="1635.04" y="184.1" width="2.4" height="17.0" fill="#7b7471"/>
<rect x="1633.04" y="188.4" width="6.4" height="8.5" fill="#7b7471"/>
<rect x="1635.04" y="190.4" width="2.4" height="4.5" fill="#f25a5a"/>
<rect x="1643.05" y="193.6" width="2.4" height="49.0" fill="#7b7471"/>
<rect x="1641.05" y="195.9" width="6.4" height="30.2" fill="#7b7471"/>
<rect x="1643.05" y="197.9" width="2.4" height="26.2" fill="#f25a5a"/>
<rect x="1651.06" y="196.4" width="2.4" height="29.2" fill="#7b7471"/>
<rect x="1649.06" y="202.5" width="6.4" height="23.6" fill="#7b7471"/>
<rect x="1651.06" y="204.5" width="2.4" height="19.6" fill="#66c430"/>
<rect x="1659.08" y="196.4" width="2.4" height="80.1" fill="#7b7471"/>
<rect x="1657.08" y="202.5" width="6.4" height="37.7" fill="#7b7471"/>
<rect x="1659.08" y="204.5" width="2.4" height="33.7" fill="#f25a5a"/>
<rect x="1667.09" y="220.5" width="2.4" height="41.9" fill="#7b7471"/>
<rect x="1665.09" y="236.4" width="6.4" height="9.5" fill="#7b7471"/>
<rect x="1667.09" y="238.4" width="2.4" height="5.5" fill="#f25a5a"/>
<rect x="1675.10" y="229.4" width="2.4" height="28.8" fill="#7b7471"/>
<rect x="1673.10" y="231.7" width="6.4" height="14.2" fill="#7b7471"/>
<rect x="1675.10" y="233.7" width="2.4" height="10.2" fill="#66c430"/>
<rect x="1683.11" y="227.5" width="2.4" height="27.3" fill="#7b7471"/>
<rect x="1681.11" y="232.6" width="6.4" height="16.7" fill="#7b7471"/>
<rect x="1683.11" y="234.6" width="2.4" height="12.7" fill="#f25a5a"/>
<rect x="1691.13" y="248.2" width="2.4" height="51.9" fill="#7b7471"/>
<rect x="1689.13" y="250.6" width="6.4" height="25.5" fill="#7b7471"/>
<rect x="1691.13" y="252.6" width="2.4" height="21.5" fill="#f25a5a"/>
<rect x="1699.14" y="265.2" width="2.4" height="52.8" fill="#7b7471"/>
<rect x="1697.14" y="275.1" width="6.4" height="42.4" fill="#7b7471"/>
<rect x="1699.14" y="277.1" width="2.4" height="38.4" fill="#f25a5a"/>
<rect x="1707.15" y="304.2" width="2.4" height="37.3" fill="#7b7471"/>
<rect x="1705.15" y="315.0" width="6.4" height="8.5" fill="#7b7471"/>
<rect x="1707.15" y="317.0" width="2.4" height="4.5" fill="#f25a5a"/>
<rect x="1715.17" y="304.2" width="2.4" height="23.2" fill="#7b7471"/>
<rect x="1713.17" y="315.6" width="6.4" height="7.9" fill="#7b7471"/>
<rect x="1715.17" y="317.6" width="2.4" height="3.9" fill="#66c430"/>
<rect x="1723.18" y="301.6" width="2.4" height="34.3" fill="#7b7471"/>
<rect x="1721.18" y="315.6" width="6.4" height="9.5" fill="#7b7471"/>
<rect x="1723.18" y="317.6" width="2.4" height="5.5" fill="#f25a5a"/>
<rect x="1731.19" y="304.2" width="2.4" height="22.3" fill="#7b7471"/>
<rect x="1729.19" y="324.1" width="6.4" height="3.5" fill="#7b7471"/>
<rect x="1739.20" y="317.0" width="2.4" height="31.1" fill="#7b7471"/>
<rect x="1737.20" y="326.0" width="6.4" height="8.5" fill="#7b7471"/>
<rect x="1739.20" y="328.0" width="2.4" height="4.5" fill="#f25a5a"/>
<rect x="1747.22" y="328.3" width="2.4" height="16.6" fill="#7b7471"/>
<rect x="1745.22" y="333.5" width="6.4" height="4.8" fill="#7b7471"/>
<rect x="1755.23" y="317.4" width="2.4" height="20.4" fill="#7b7471"/>
<rect x="1753.23" y="319.4" width="6.4" height="18.9" fill="#7b7471"/>
<rect x="1755.23" y="321.4" width="2.4" height="14.9" fill="#66c430"/>
<rect x="1763.24" y="306.1" width="2.4" height="13.8" fill="#7b7471"/>
<rect x="1761.24" y="313.7" width="6.4" height="6.7" fill="#7b7471"/>
<rect x="1763.24" y="315.7" width="2.4" height="2.7" fill="#66c430"/>
<rect x="1771.26" y="297.2" width="2.4" height="17.0" fill="#7b7471"/>
<rect x="1769.26" y="306.2" width="6.4" height="8.5" fill="#7b7471"/>
<rect x="1771.26" y="308.2" width="2.4" height="4.5" fill="#66c430"/>
<rect x="1779.27" y="306.7" width="2.4" height="40.5" fill="#7b7471"/>
<rect x="1777.27" y="306.2" width="6.4" height="41.5" fill="#7b7471"/>
<rect x="1779.27" y="308.2" width="2.4" height="37.5" fill="#f25a5a"/>
<rect x="1787.28" y="331.2" width="2.4" height="28.8" fill="#7b7471"/>
<rect x="1785.28" y="346.7" width="6.4" height="7.6" fill="#7b7471"/>
<rect x="1787.28" y="348.7" width="2.4" height="3.6" fill="#f25a5a"/>
</g>
<rect x="0" y="60" width="257" height="946" fill="#fff"/>
<rect x="113" y="189" width="144" height="2" fill="#e8ebf5"/>
<line x1="264" y1="176.5" x2="1926" y2="176.5" stroke="#6f6966" stroke-width="2.5" stroke-dasharray="9 9"/>
<line x1="1028" y1="350" x2="1926" y2="350" stroke="#ff0000" stroke-width="4" stroke-dasharray="18 9"/>
<line x1="500" y1="666.3" x2="923.6" y2="698.7" stroke="#ff0000" stroke-width="7" stroke-dasharray="27 13.5"/>
<line x1="1300" y1="147.5" x2="2069.6" y2="227.5" stroke="#ff0000" stroke-width="4.5" stroke-dasharray="18 9"/>
<line x1="268.5" y1="512" x2="827.7" y2="773.1" stroke="#0000ff" stroke-width="2.2"/>
<line x1="483.8" y1="946.3" x2="2003.5" y2="63.9" stroke="#0000ff" stroke-width="2.2"/>
<line x1="852.2" y1="683.1" x2="996.3" y2="234.5" stroke="#6f6966" stroke-width="2"/>
<line x1="1994.8" y1="221" x2="2045.2" y2="64.3" stroke="#6f6966" stroke-width="2"/>
<text x="1947.6" y="93.9" font-size="31" fill="#8c8786" textLength="174.4" lengthAdjust="spacingAndGlyphs">400,00000</text>
<text x="1947.6" y="245.8" font-size="31" fill="#8c8786" textLength="174.4" lengthAdjust="spacingAndGlyphs">200,00000</text>
<text x="1952.5" y="397.6" font-size="31" fill="#8c8786" textLength="169.5" lengthAdjust="spacingAndGlyphs">100,00000</text>
<text x="1969.0" y="475.7" font-size="31" fill="#8c8786" textLength="153.0" lengthAdjust="spacingAndGlyphs">70,00000</text>
<text x="1969.0" y="549.4" font-size="31" fill="#8c8786" textLength="153.0" lengthAdjust="spacingAndGlyphs">50,00000</text>
<text x="1969.0" y="661.3" font-size="31" fill="#8c8786" textLength="153.0" lengthAdjust="spacingAndGlyphs">30,00000</text>
<text x="1969.0" y="750.2" font-size="31" fill="#8c8786" textLength="153.0" lengthAdjust="spacingAndGlyphs">20,00000</text>
<text x="1973.2" y="902.0" font-size="31" fill="#8c8786" textLength="148.8" lengthAdjust="spacingAndGlyphs">10,00000</text>
<text x="1990.0" y="980.1" font-size="31" fill="#8c8786" textLength="132.0" lengthAdjust="spacingAndGlyphs">7,00000</text>
<path d="M1925.8 176.5 L1942.6 157.1 L2136 157.1 L2136 195.8 L1942.6 195.8 Z" fill="#716b68"/>
<text x="1952.5" y="189.8" font-size="32" fill="#f4f4f4" textLength="170" lengthAdjust="spacingAndGlyphs">259,99985</text>
<path d="M1924 356.5 L1942.3 337.3 L2136 337.3 L2136 375.7 L1942.3 375.7 Z" fill="#f25d5d"/>
<text x="1963.5" y="369.6" font-size="31.5" fill="#1a0a0a" textLength="159" lengthAdjust="spacingAndGlyphs">114,88000</text>
<text x="449.3" y="998.3" font-size="31.5" fill="#8c8786" textLength="114" lengthAdjust="spacingAndGlyphs">Jan '23</text>
<text x="865.1" y="998.3" font-size="31.5" fill="#8c8786" textLength="114" lengthAdjust="spacingAndGlyphs">Jan '24</text>
<text x="1288.1" y="998.3" font-size="31.5" fill="#8c8786" textLength="114" lengthAdjust="spacingAndGlyphs">Jan '25</text>
<text x="1704.4" y="998.3" font-size="31.5" fill="#8c8786" textLength="114" lengthAdjust="spacingAndGlyphs">Jan '26</text>
<rect x="257" y="74" width="1182" height="72" fill="#fff" fill-opacity="0.9"/>
<text x="309" y="105.2" font-size="31" fill="#f06b6b" textLength="262" lengthAdjust="spacingAndGlyphs">Solana SOL/USD</text>
<text x="583" y="105.2" font-size="31" fill="#f06b6b" textLength="198" lengthAdjust="spacingAndGlyphs">O: 118,31000</text>
<text x="793" y="105.2" font-size="31" fill="#f06b6b" textLength="210" lengthAdjust="spacingAndGlyphs">H: 128,33000</text>
<text x="1018" y="105.2" font-size="31" fill="#f06b6b" textLength="189" lengthAdjust="spacingAndGlyphs">L: 112,13000</text>
<text x="1222" y="105.2" font-size="31" fill="#f06b6b" textLength="202" lengthAdjust="spacingAndGlyphs">C: 114,88000</text>
<text x="309" y="141.1" font-size="31" fill="#333" textLength="384" lengthAdjust="spacingAndGlyphs">30.05.2022 - 26.01.2026</text>
<text x="716" y="141.1" font-size="31" fill="#333" textLength="294" lengthAdjust="spacingAndGlyphs">(4 Jahre, 1 Woche)</text>
<g stroke="#f05a5a" stroke-width="2.3" fill="none"><rect x="271.25" y="84.25" width="4.4" height="8.6"/><line x1="273.5" y1="93" x2="273.5" y2="101.6"/><line x1="282.6" y1="80.2" x2="282.6" y2="88.2"/><rect x="280.35" y="89.25" width="4.4" height="8.3"/><line x1="282.6" y1="98.6" x2="282.6" y2="101.6"/><line x1="291.6" y1="84.1" x2="291.6" y2="92.2"/><rect x="289.35" y="93.35" width="4.4" height="8.2"/></g>
<circle cx="285" cy="127" r="10.8" stroke="#000" stroke-width="2.3" fill="none"/><path d="M285 120.2 V127.3 L289.3 131.3" stroke="#000" stroke-width="2.3" fill="none"/>
<g fill="none" stroke="#000" stroke-width="4.0" stroke-linecap="round" stroke-linejoin="round"><path d="M133.3 26.4 L139.6 22 L139.6 41.2"/><path d="M158.5 41.2 L158.5 22 L147.9 36.3 L162 36.3"/><path d="M177.6 24.5 C179 22 181 21.3 183 21.3 C186.5 21.3 188.4 23.3 188.4 26 C188.4 28.8 186 30.6 182.6 30.6 C186.5 30.6 189.2 32.8 189.2 35.8 C189.2 39.2 186.5 41.3 183 41.3 C180 41.3 177.8 39.7 177 37.5"/><ellipse cx="203.8" cy="31.3" rx="7.1" ry="9.9"/></g><circle cx="169.6" cy="25.8" r="2.7"/><circle cx="169.6" cy="37.3" r="2.7"/>
<path d="M238.4 19.2 C239.5 18.6 241.5 21 242.6 22.9 C244 20.5 245 17.6 247.5 17.6 C250 17.6 251 21.5 253.1 22.7 C255 23.8 258 24 259.8 24.3 C262.5 25 262.5 28.5 261 30 C260 31 259.5 32 259.6 32.3 C262 32.8 265.5 33.5 264.7 34.8 C263 37 260 39 256.3 38.6 C254 40.5 251.5 41.8 248.2 41.7 C242 41.5 238.5 37 238.8 32.3 C239 30 239.3 29.5 238.6 28.8 C236.5 26.5 236.3 23 236.8 21 C237.2 19.8 237.8 19.2 238.4 19.2 Z" fill="#000"/>
<ellipse cx="235.5" cy="35.8" rx="1.8" ry="2.7" transform="rotate(-15 235.5 35.8)" fill="#000"/><ellipse cx="250.9" cy="45.2" rx="2.9" ry="1.9" transform="rotate(-15 250.9 45.2)" fill="#000"/>
<line x1="1890" y1="37.7" x2="1890" y2="42.2" stroke="#000" stroke-width="6.2" stroke-linecap="round"/>
<line x1="1901" y1="30.8" x2="1901" y2="42.2" stroke="#000" stroke-width="6.2" stroke-linecap="round"/>
<line x1="1911.5" y1="25.8" x2="1911.5" y2="42.2" stroke="#000" stroke-width="6.2" stroke-linecap="round"/>
<line x1="1922" y1="20.9" x2="1922" y2="42.2" stroke="#8e8e8e" stroke-width="6.2" stroke-linecap="round"/>
<g fill="none" stroke="#000" stroke-width="5.2" stroke-linecap="round"><path d="M1941.8 26.2 A24 24 0 0 1 1972 26.2"/><path d="M1948.6 33.2 A14.6 14.6 0 0 1 1965.4 33.2"/></g><circle cx="1956.9" cy="41.3" r="3.4" fill="#000"/>
<rect x="1989" y="17" width="54" height="29" rx="8" fill="#c8c8c8"/><path d="M1997 17 H2020 V46 H1997 A8 8 0 0 1 1989 38 V25 A8 8 0 0 1 1997 17 Z" fill="#000"/><rect x="2045" y="25" width="3" height="12" rx="1.5" fill="#c8c8c8"/>
<path d="M184.5 107.4 L167.4 125.8 L184.5 144.1 M167.4 125.8 L203.3 125.8" stroke="#0e0e12" stroke-width="3.6" fill="none" stroke-linecap="round" stroke-linejoin="round"/>
<g fill="#2268e0"><rect x="158" y="233.7" width="54" height="4.2"/><rect x="158" y="251.6" width="54" height="4.2"/><rect x="158" y="269.8" width="54" height="4.2"/></g>
<path d="M160 399 L169.2 387.5 L175.4 394.4 L184.8 380.5 L192.1 391 L209.5 361.5" stroke="#2268e0" stroke-width="4.2" fill="none"/>
<circle cx="184.8" cy="505.5" r="25" stroke="#2268e0" stroke-width="4.2" fill="none"/><path d="M183.8 491 V507 L194.6 518" stroke="#2268e0" stroke-width="4.2" fill="none"/>
<g fill="#2268e0"><rect x="158" y="609" width="4.4" height="46"/><rect x="207.6" y="609" width="4.4" height="46"/><rect x="174" y="629.9" width="22" height="4"/><path d="M167.5 631.9 L177 623 L177 640.8 Z"/><path d="M202.5 631.9 L193 623 L193 640.8 Z"/></g>
<g stroke="#2268e0" stroke-width="4.2" fill="none"><circle cx="173.7" cy="738.5" r="4.8"/><circle cx="197" cy="755.8" r="4.8"/><circle cx="197" cy="777.3" r="4.8"/><path d="M173.7 743.3 V777.3 H192.2 M173.7 755.8 H192.2"/></g>
<rect x="2172.8" y="237.8" width="33.3" height="33.3" rx="4.5" fill="#666"/>
<circle cx="2189.7" cy="502.8" r="18.5" fill="#666"/>
<path d="M2176 752.4 L2203 737.2 L2203 767.8 Z" fill="#666" stroke="#666" stroke-width="6" stroke-linejoin="round"/>
</svg></body></html>
